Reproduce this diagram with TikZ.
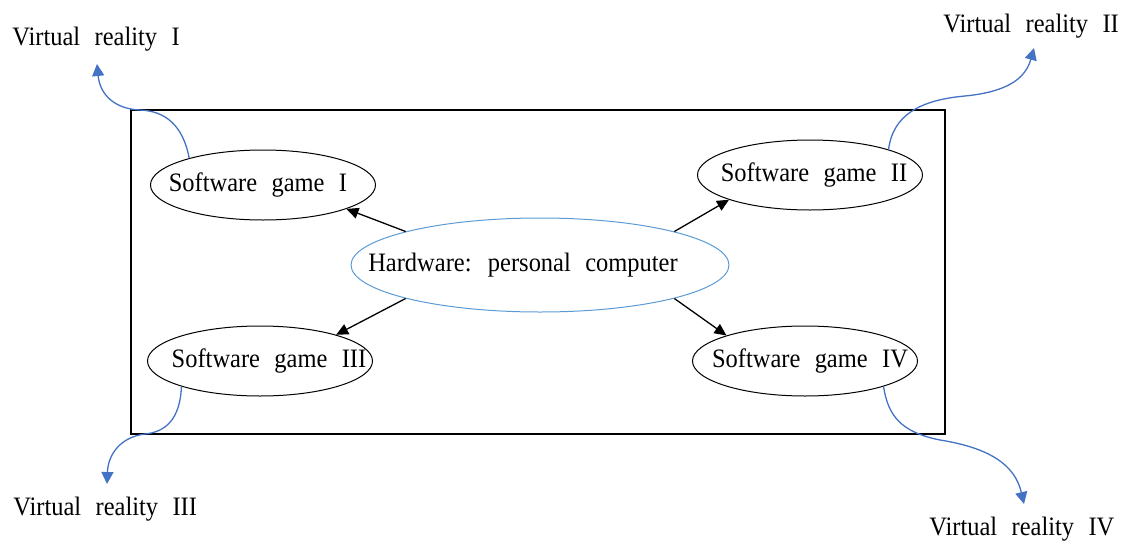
\documentclass[tikz,border=0pt]{standalone}
\usepackage{fontspec}
\setmainfont[WordSpace=2.35,FakeStretch=0.92]{Liberation Serif}
\usetikzlibrary{arrows.meta,shapes.geometric}
\definecolor{vrblue}{RGB}{68,114,196}
\definecolor{hwblue}{RGB}{91,155,213}
\begin{document}
\begin{tikzpicture}[x=0.5pt,y=-0.5pt,
  txt/.style={font=\fontsize{13.3pt}{15pt}\selectfont, inner sep=0pt},
  game/.style={ellipse, draw=black, line width=0.5pt, minimum width=112.5pt, minimum height=35pt, inner sep=0pt},
  hwnode/.style={ellipse, draw=hwblue, line width=0.5pt, minimum width=189pt, minimum height=47pt, inner sep=0pt},
  link/.style={draw=black, line width=0.65pt, -{Triangle[length=6pt,width=5.5pt]}},
  vrlink/.style={draw=vrblue, line width=0.65pt, -{Triangle[length=6pt,width=6pt]}},
  vrtext/.style={txt, anchor=base west}]
\useasboundingbox (0,0) rectangle (1131,547);
\node[draw=black, line width=0.65pt, minimum width=407pt, minimum height=162pt, inner sep=0pt] (frame) at (538,272) {};
\node[hwnode, label={[txt, xshift=-8.5pt]center:Hardware: personal computer}] (hw) at (540,265) {};
\node[game, label={[txt, xshift=-2.5pt]center:Software game I}] (s1) at (263,185) {};
\node[game, label={[txt, xshift=2pt]center:Software game II}] (s2) at (810,175) {};
\node[game, label={[txt, xshift=4.5pt]center:Software game III}] (s3) at (260,361) {};
\node[game, label={[txt, xshift=2.5pt]center:Software game IV}] (s4) at (805,361) {};
\node[vrtext] (v1) at (12,45) {Virtual reality I};
\node[vrtext] (v2) at (943,32) {Virtual reality II};
\node[vrtext] (v3) at (13,515) {Virtual reality III};
\node[vrtext] (v4) at (929,535) {Virtual reality IV};
\coordinate (t1) at (97,64);
\coordinate (t2) at (1034,48);
\coordinate (t3) at (107,484);
\coordinate (t4) at (1024,504);
\draw[link] (hw.166) -- (s1.-16);
\draw[link] (hw.14) -- (s2.-163);
\draw[link] (hw.-166) -- (s3.19);
\draw[link] (hw.-14) -- (s4.162);
\draw[vrlink] (s1.160) .. controls (183,125) and (165,111) .. (140,110) .. controls (115,109) and (100,95) .. (t1);
\draw[vrlink] (s2.18) .. controls (893,115) and (920,100) .. (965,96) .. controls (1005,92) and (1025,80) .. (t2);
\draw[vrlink] (s3.-162) .. controls (180,420) and (165,432) .. (145,434) .. controls (120,437) and (108,455) .. (t3);
\draw[vrlink] (s4.-18) .. controls (888,415) and (900,432) .. (940,440) .. controls (990,448) and (1015,465) .. (t4);
\end{tikzpicture}
\end{document}
